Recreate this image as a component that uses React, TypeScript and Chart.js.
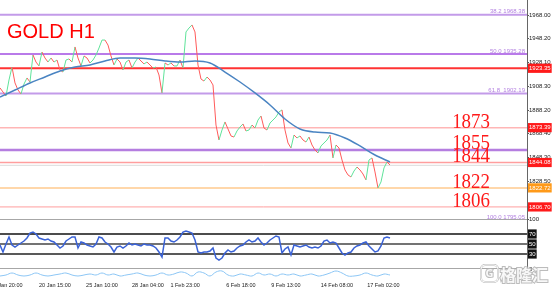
import React, { useEffect, useRef } from 'react';
import { Chart, registerables } from 'chart.js';

Chart.register(...registerables);

// ---------- data ----------
const chartTitle = 'GOLD H1';

// closing prices, one value every few H1 bars (time index 0..130)
const closes = [
  1906.8, 1903.4, 1900.0, 1913.5, 1924.4, 1911.0, 1905.1, 1901.7, 1910.1, 1915.2,
  1911.8, 1934.5, 1928.6, 1925.3, 1937.0, 1932.0, 1928.6, 1932.0, 1928.6, 1930.3,
  1921.9, 1920.2, 1930.3, 1931.2, 1928.6, 1941.3, 1932.0, 1925.3, 1933.7, 1932.0,
  1927.8, 1930.3, 1934.5, 1940.4, 1947.1, 1947.1, 1942.9, 1933.7, 1926.1, 1931.2,
  1928.6, 1921.9, 1928.6, 1930.3, 1923.6, 1928.6, 1932.0, 1929.5, 1927.0, 1928.6,
  1926.1, 1923.6, 1924.4, 1917.7, 1902.6, 1927.8, 1926.1, 1927.8, 1925.3, 1925.3,
  1930.3, 1923.6, 1953.9, 1957.2, 1959.8, 1953.9, 1926.1, 1914.3, 1912.6, 1916.0,
  1913.5, 1909.3, 1875.6, 1863.0, 1871.4, 1878.2, 1872.3, 1866.4, 1865.5, 1870.6,
  1873.9, 1876.5, 1870.6, 1871.4, 1875.6, 1873.1, 1879.8, 1883.2, 1873.1, 1871.4,
  1877.3, 1879.8, 1882.4, 1886.6, 1888.3, 1871.4, 1860.5, 1856.3, 1867.2, 1864.7,
  1866.4, 1863.0, 1861.3, 1865.5, 1858.8, 1854.6, 1852.1, 1858.0, 1860.5, 1863.0,
  1867.2, 1847.9, 1858.8, 1856.3, 1846.2, 1837.8, 1833.6, 1831.9, 1836.9, 1840.3,
  1837.8, 1834.4, 1829.4, 1846.2, 1847.9, 1836.1, 1822.6, 1827.7, 1839.5, 1844.5, 1842.0,
];

// moving average, one value every 5 time steps
const maStep = 5;
const maValues = [
  1899.2, 1905.1, 1911.0, 1916.0, 1921.1, 1924.4, 1926.1, 1929.5, 1932.0, 1932.0,
  1931.2, 1929.5, 1928.6, 1929.5, 1927.8, 1920.2, 1911.8, 1902.6, 1892.5, 1880.7,
  1872.3, 1869.7, 1868.9, 1864.7, 1858.0, 1850.4, 1844.5,
];

// RSI, same time index as closes
const rsiValues = [
  48, 34, 50, 64, 48, 44, 48, 52, 56, 62,
  72, 74, 70, 62, 60, 58, 60, 56, 54, 48,
  42, 46, 56, 60, 64, 64, 42, 54, 52, 48,
  46, 44, 50, 64, 62, 54, 50, 44, 34, 44,
  46, 42, 46, 52, 48, 50, 48, 46, 50, 48,
  48, 46, 42, 34, 24, 62, 62, 56, 54, 58,
  64, 74, 76, 74, 72, 58, 34, 32, 34, 34,
  36, 42, 22, 18, 22, 32, 38, 34, 36, 42,
  46, 48, 54, 58, 54, 56, 62, 54, 48, 52,
  58, 62, 66, 64, 32, 40, 44, 28, 48, 46,
  44, 46, 48, 44, 42, 44, 42, 46, 56, 58,
  52, 54, 52, 42, 32, 28, 32, 34, 42, 46,
  48, 52, 54, 46, 40, 34, 36, 46, 62, 64, 62,
];

// lower indicator, one value every 2 time steps
const lowStep = 2;
const lowValues = [
  4, 5, 7, 5, 4, 5, 7, 5, 4, 5,
  6, 7, 5, 4, 5, 6, 5, 7, 5, 6,
  4, 5, 6, 7, 5, 4, 5, 7, 5, 6,
  8, 7, 4, 8, 7, 4, 8, 9, 5, 4,
  6, 5, 4, 7, 5, 6, 4, 6, 5, 6,
  4, 5, 6, 4, 5, 7, 9, 7, 4, 4,
  5, 7, 5, 4, 6, 5,
];

const priceTicks = [1968.0, 1948.2, 1928.1, 1908.3, 1888.2, 1868.4, 1848.3, 1828.5, 1808.4];
const markerPrices = [1923.35, 1873.39, 1844.08, 1822.72, 1806.7];
const levelPrices = [1968.38, 1935.28, 1923.35, 1902.19, 1873.39, 1854.6, 1844.08, 1841.7, 1822.72, 1806.7];
const fibPrices = [1968.38, 1935.28, 1902.19, 1795.05];
const fibLabels = ['38.2 1968.38', '50.0 1935.28', '61.8  1902.19', '100.0 1795.05'];
const bigValues = [1873, 1855, 1844, 1822, 1806];
const bigLabels = ['1873', '1855', '1844', '1822', '1806'];
const rsiLevels = [100, 70, 50, 30, 0];
const rsiBoxed = [70, 50, 30];
const timeLabels = ['17 Jan 20:00', '20 Jan 15:00', '25 Jan 10:00', '28 Jan 04:00', '1 Feb 23:00', '6 Feb 18:00', '9 Feb 13:00', '14 Feb 08:00', '17 Feb 02:00'];
const timeLabelPos = [2.2, 18.3, 34, 49.3, 61.7, 80.3, 95.3, 112.3, 127.8];

// ---------- styles ----------
const X_MAX = 175.67;
const PRICE_MIN = 1796.54;
const PRICE_MAX = 1980.79;
const GREEN = '#5fe39a';
const RED = '#ff5a5a';
const levelStyles = [
  { color: '#c39be9', width: 2 },
  { color: '#a24ee2', width: 1.5 },
  { color: '#ff3333', width: 2 },
  { color: '#c39be9', width: 2 },
  { color: '#ffb6b6', width: 1.5 },
  { color: '#b57ee0', width: 2.5 },
  { color: '#ff9e9e', width: 1.5 },
  { color: '#dcdcdc', width: 1 },
  { color: '#ffca8e', width: 1.5 },
  { color: '#ff9e9e', width: 1 },
];
const markerColors = ['#ff1a1a', '#ff1a1a', '#ff1a1a', '#ff9a1a', '#ff1a1a'];
const rsiLevelStyles = [
  { color: '#8a8a8a', width: 1.5 },
  { color: '#111111', width: 1.5 },
  { color: '#444444', width: 1.5 },
  { color: '#222222', width: 1.5 },
  { color: '#8a8a8a', width: 1.5 },
];

const overlay = {
  id: 'overlay',
  afterDraw(chart: any) {
    const { ctx, scales, chartArea } = chart;
    const y = scales.y;
    ctx.save();
    // title
    ctx.font = '20px "Liberation Sans", Arial, sans-serif';
    ctx.fillStyle = '#ff0000';
    ctx.textAlign = 'left';
    ctx.textBaseline = 'alphabetic';
    ctx.fillText(chartTitle, 7, 38);
    // fib labels
    ctx.font = '6px "Liberation Sans", Arial, sans-serif';
    ctx.fillStyle = '#b27fe0';
    ctx.textAlign = 'right';
    fibPrices.forEach((p, i) => {
      ctx.fillText(fibLabels[i], chartArea.right - 2, y.getPixelForValue(p) - 1.5);
    });
    // big level numbers
    ctx.font = '22px "Liberation Serif", "Times New Roman", serif';
    ctx.fillStyle = '#ff1a1a';
    bigValues.forEach((v, i) => {
      ctx.save();
      ctx.translate(490, y.getPixelForValue(v) - 0.5);
      ctx.scale(0.86, 1);
      ctx.fillText(bigLabels[i], 0, 0);
      ctx.restore();
    });
    // watermark
    ctx.globalAlpha = 0.9;
    ctx.lineWidth = 2;
    ctx.strokeStyle = '#b5b5b5';
    ctx.beginPath();
    (ctx as any).roundRect(481, 265, 17, 17, 4);
    ctx.stroke();
    ctx.lineWidth = 1;
    ctx.strokeStyle = '#ffffff';
    ctx.beginPath();
    (ctx as any).roundRect(481, 265, 17, 17, 4);
    ctx.stroke();
    ctx.font = 'bold 11px "Noto Sans", sans-serif';
    ctx.textAlign = 'center';
    ctx.textBaseline = 'middle';
    ctx.lineWidth = 2;
    ctx.strokeStyle = '#b5b5b5';
    ctx.strokeText('G', 489.5, 274);
    ctx.fillStyle = '#ffffff';
    ctx.fillText('G', 489.5, 274);
    ctx.font = 'bold 16px "Noto Sans CJK SC", sans-serif';
    ctx.textAlign = 'left';
    ctx.textBaseline = 'alphabetic';
    ctx.strokeText('格隆汇', 500, 281);
    ctx.fillText('格隆汇', 500, 281);
    ctx.restore();
  },
};

export default function App() {
  const ref = useRef<HTMLCanvasElement>(null);
  useEffect(() => {
    document.body.style.margin = '0';
    document.body.style.background = '#ffffff';
    const canvas = ref.current;
    if (!canvas) return;
    const hline = (v: number) => [{ x: 0, y: v }, { x: X_MAX, y: v }];
    const datasets: any[] = [];
    levelPrices.forEach((v, i) => {
      datasets.push({
        data: hline(v), yAxisID: 'y', borderColor: levelStyles[i].color,
        borderWidth: levelStyles[i].width, pointRadius: 0, order: 10,
      });
    });
    rsiLevels.forEach((v, i) => {
      datasets.push({
        data: hline(v), yAxisID: 'rsi', borderColor: rsiLevelStyles[i].color,
        borderWidth: rsiLevelStyles[i].width, pointRadius: 0, order: 10,
      });
    });
    datasets.push({
      data: closes.map((c, i) => ({ x: i, y: c })), yAxisID: 'y', borderWidth: 1,
      borderColor: RED, pointRadius: 0, order: 2,
      segment: { borderColor: (c: any) => (c.p1.parsed.y >= c.p0.parsed.y ? GREEN : RED) },
    });
    datasets.push({
      data: maValues.map((m, i) => ({ x: i * maStep, y: m })), yAxisID: 'y', borderWidth: 1.5,
      borderColor: '#4a84c2', pointRadius: 0, order: 1, cubicInterpolationMode: 'monotone', tension: 0.4,
    });
    datasets.push({
      data: rsiValues.map((r, i) => ({ x: i, y: r })), yAxisID: 'rsi', borderWidth: 1.5,
      borderColor: '#3a62d6', pointRadius: 0, order: 1,
    });
    datasets.push({
      data: lowValues.map((r, i) => ({ x: i * lowStep, y: r })), yAxisID: 'low', borderWidth: 1,
      borderColor: '#8cc6f5', pointRadius: 0, order: 1, tension: 0.4,
    });

    const vFit = (s: any) => { s.width = 27; s.paddingTop = 0; s.paddingBottom = 0; };
    const smallFont = { size: 6, family: '"Liberation Sans", Arial, sans-serif' };

    const chart = new Chart(canvas, {
      type: 'line',
      data: { datasets },
      plugins: [overlay],
      options: {
        animation: false,
        responsive: false,
        events: [],
        layout: { padding: 0 },
        plugins: { legend: { display: false }, tooltip: { enabled: false } },
        scales: {
          x: {
            type: 'linear', min: 0, max: X_MAX, position: 'bottom',
            afterBuildTicks: (s: any) => { s.ticks = timeLabelPos.map((v) => ({ value: v })); },
            afterFit: (s: any) => { s.height = 10; s.paddingLeft = 0; s.paddingRight = 0; },
            ticks: {
              autoSkip: false, maxRotation: 0, minRotation: 0, padding: 2, color: '#222',
              font: { size: 5.5, family: '"Liberation Sans", Arial, sans-serif' },
              callback: (_v: any, i: number) => timeLabels[i],
            },
            grid: { display: false, drawTicks: false },
            border: { display: false },
          },
          y: {
            type: 'linear', position: 'right', stack: 'panes', stackWeight: 219,
            min: PRICE_MIN, max: PRICE_MAX,
            afterBuildTicks: (s: any) => { s.ticks = [...priceTicks, ...markerPrices].map((v) => ({ value: v })); },
            afterFit: vFit,
            ticks: {
              autoSkip: false,
              font: smallFont, padding: 0,
              color: (c: any) => (markerPrices.includes(c.tick?.value) ? '#ffffff' : '#222'),
              showLabelBackdrop: (c: any) => markerPrices.includes(c.tick?.value),
              backdropColor: (c: any) => markerColors[markerPrices.indexOf(c.tick?.value)] || 'transparent',
              backdropPadding: { x: 1, y: 1 },
              callback: (v: any) => Number(v).toFixed(2),
            },
            grid: { display: true, drawOnChartArea: false, drawTicks: true, tickLength: 2, color: '#555' },
            border: { display: true, color: '#666', width: 1 },
          },
          rsi: {
            type: 'linear', position: 'right', stack: 'panes', stackWeight: 50,
            min: 0, max: 100,
            afterBuildTicks: (s: any) => { s.ticks = rsiLevels.map((v) => ({ value: v })); },
            afterFit: vFit,
            ticks: {
              autoSkip: false,
              font: smallFont, padding: 0,
              color: (c: any) => (rsiBoxed.includes(c.tick?.value) ? '#ffffff' : '#222'),
              showLabelBackdrop: (c: any) => rsiBoxed.includes(c.tick?.value),
              backdropColor: '#111111',
              backdropPadding: { x: 1, y: 1 },
              callback: (v: any) => String(v),
            },
            grid: { display: true, drawOnChartArea: false, drawTicks: true, tickLength: 2, color: '#555' },
            border: { display: true, color: '#666', width: 1 },
          },
          low: {
            type: 'linear', position: 'right', stack: 'panes', stackWeight: 11,
            min: 0, max: 11,
            afterFit: vFit,
            ticks: { display: false },
            grid: { display: false, drawTicks: false },
            border: { display: true, color: '#666', width: 1 },
          },
        },
      } as any,
    });
    return () => chart.destroy();
  }, []);
  return (
    <div style={{ width: 554, height: 290, background: '#fff' }}>
      <canvas ref={ref} width={554} height={290} style={{ display: 'block', width: 554, height: 290 }} />
    </div>
  );
}
